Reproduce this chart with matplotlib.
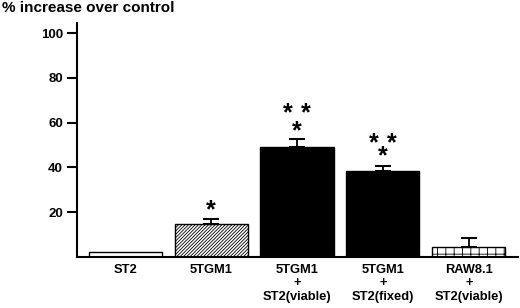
import matplotlib
matplotlib.use("Agg")
import matplotlib.pyplot as plt

plt.rcParams['font.family'] = ['Liberation Sans', 'DejaVu Sans']
plt.rcParams['font.weight'] = 'bold'
plt.rcParams['hatch.linewidth'] = 0.6

# data
groups = ["ST2", "5TGM1", "5TGM1\n+\nST2(viable)", "5TGM1\n+\nST2(fixed)", "RAW8.1\n+\nST2(viable)"]
values = [2.2, 14.6, 49.0, 38.6, 4.5]
errors = [0.0, 2.3, 3.6, 2.2, 4.0]
fills = ["white", "white", "black", "black", "white"]
hatches = [None, "//////////", None, None, "++"]
# significance stars: (bar index, x offset, y centre)
stars = [(1, 0, 20.5),
         (2, 0, 56), (2, -0.105, 64), (2, 0.105, 64),
         (3, 0, 45), (3, -0.105, 50.5), (3, 0.105, 50.5)]

fig = plt.figure(figsize=(5.2, 3.08), dpi=100)
ax = fig.add_axes([0.148, 0.166, 0.848, 0.759])

x = list(range(len(groups)))
bars = ax.bar(x, values, width=0.85, color=fills, edgecolor="black", linewidth=1.0)
for b, h in zip(bars, hatches):
    if h:
        b.set_hatch(h)

ex = [i for i in x if errors[i] > 0]
ax.errorbar(ex, [values[i] for i in ex], yerr=[[0] * len(ex), [errors[i] for i in ex]],
            fmt="none", ecolor="black", elinewidth=1.3, capsize=6, capthick=1.5)

for i, dx, y in stars:
    # asterisk glyph sits above the baseline, so shift the baseline down
    ax.text(i + dx, y - 3.0, "*", ha="center", va="baseline", fontsize=18, fontweight="bold")

ax.set_xlim(-0.56, 4.57)
ax.set_ylim(0, 104.5)
ax.set_yticks([20, 40, 60, 80, 100])
ax.set_xticks(x)
ax.set_xticklabels(groups, fontsize=9.3, fontweight="bold", linespacing=1.15)
ax.tick_params(axis="x", length=0, pad=5)
ax.tick_params(axis="y", length=7, width=1.5, labelsize=9.5, pad=3)
for lab in ax.get_yticklabels():
    lab.set_fontweight("bold")

ax.spines["top"].set_visible(False)
ax.spines["right"].set_visible(False)
ax.spines["left"].set_linewidth(1.5)
ax.spines["bottom"].set_linewidth(1.5)

fig.text(0.004, 0.975, "% increase over control", ha="left", va="center",
         fontsize=11, fontweight="bold")

fig.savefig("out.png", dpi=100)
